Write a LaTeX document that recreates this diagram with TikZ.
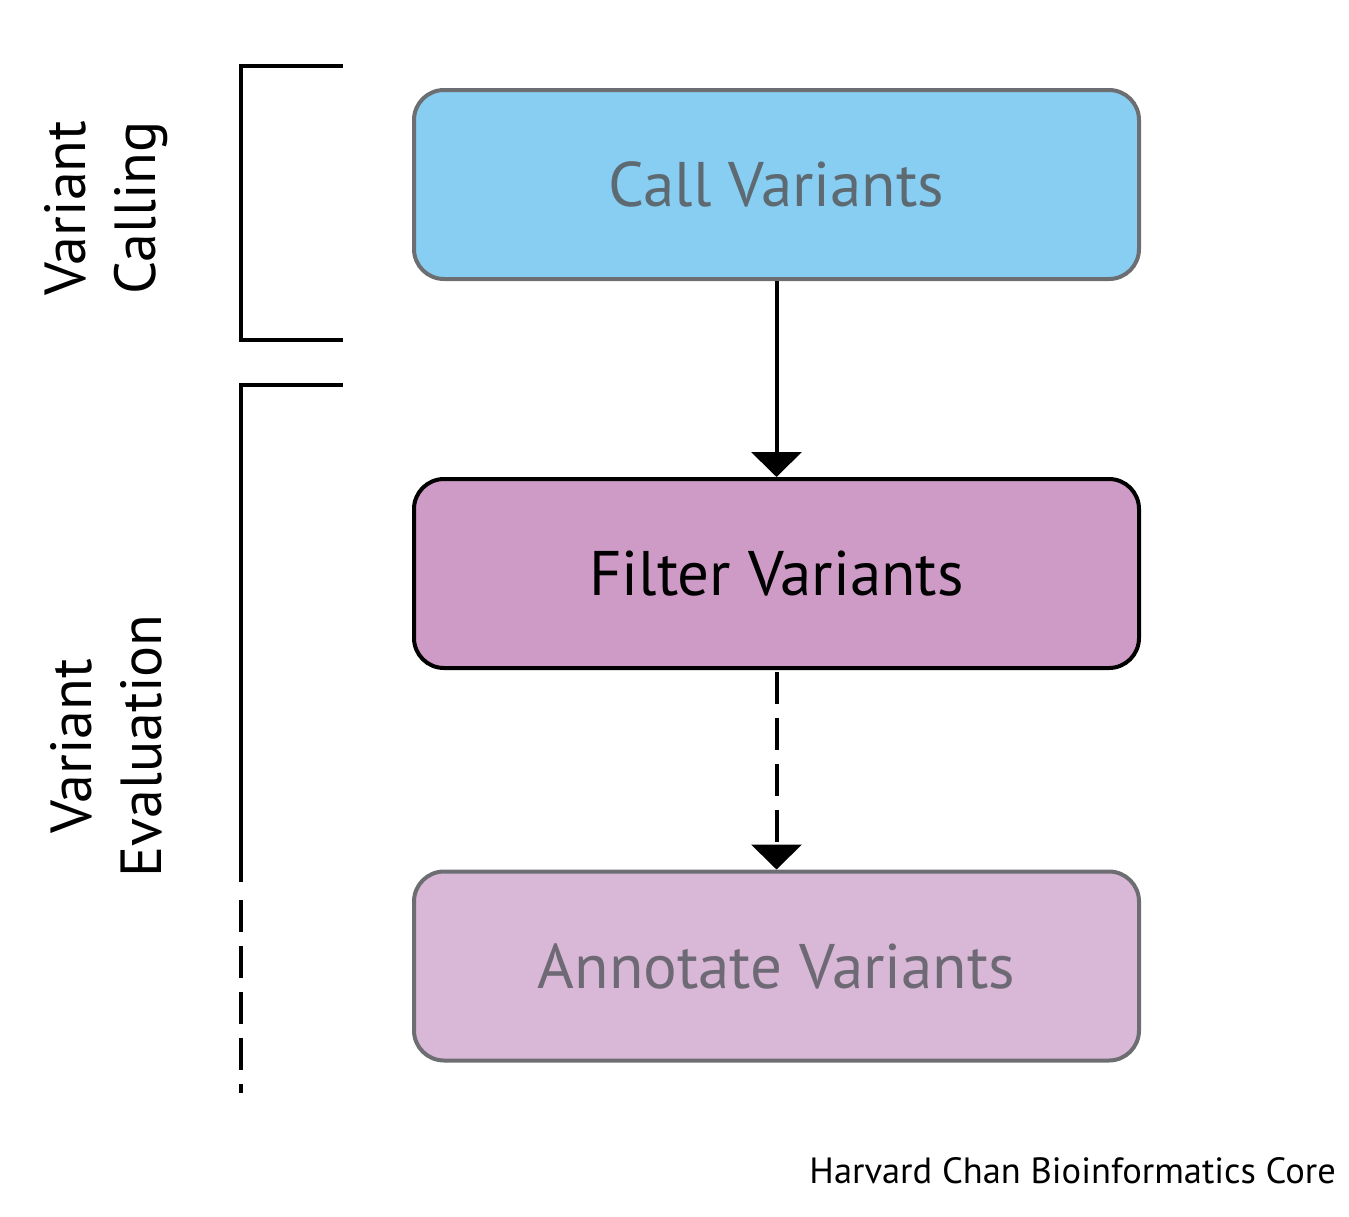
\documentclass[tikz,border=0pt]{standalone}
\usepackage{fontspec}
\setmainfont{PT Sans}
\usetikzlibrary{arrows.meta}
\definecolor{boxblue}{RGB}{135,206,242}
\definecolor{boxpurple}{RGB}{206,155,199}
\definecolor{boxlight}{RGB}{217,183,214}
\definecolor{bordergray}{RGB}{109,110,113}
\definecolor{textgray}{RGB}{94,106,113}
\definecolor{textgrayb}{RGB}{109,106,117}
\tikzset{
  stepbox/.style={rectangle, rounded corners=30pt, line width=4pt,
    minimum width=725pt, minimum height=189pt, inner sep=0pt,
    font=\fontsize{63}{70}\selectfont},
  flowarrow/.style={line width=4pt, -{Triangle[width=50pt,length=25pt]}},
  bracketline/.style={line width=3.2pt},
  sidelabel/.style={rotate=90, align=center, font=\fontsize{58}{70}\selectfont},
  dashpat/.style={dash pattern=on 32pt off 14pt}
}
\begin{document}
\begin{tikzpicture}[x=1pt,y=-1pt]
\useasboundingbox (0,0) rectangle (1349,1216);
\node[stepbox, fill=boxblue, draw=bordergray, text=textgray] (call) at (776.5,184.5) {Call Variants};
\node[stepbox, fill=boxpurple, draw=black, text=black] (filter) at (776.5,573.5) {Filter Variants};
\node[stepbox, fill=boxlight, draw=bordergray, text=textgrayb] (annot) at (776.5,966) {Annotate Variants};
\draw[flowarrow] (call.south) -- (filter.north);
\draw[flowarrow, dashpat] ([yshift=-2pt]filter.south) -- (annot.north);
% brackets
\coordinate (b1a) at (343,66);
\coordinate (b1b) at (241,66);
\coordinate (b1c) at (241,340);
\coordinate (b1d) at (343,340);
\draw[bracketline] (b1a) -- (b1b) -- (b1c) -- (b1d);
\coordinate (b2a) at (343,385);
\coordinate (b2b) at (241,385);
\coordinate (b2c) at (241,882);
\coordinate (b2d) at (241,900);
\coordinate (b2e) at (241,1093);
\draw[bracketline] (b2a) -- (b2b) -- (b2c);
\draw[bracketline, dashpat] (b2d) -- (b2e);
\node[sidelabel] (lab1) at (106,208) {Variant\\Calling};
\node[sidelabel] (lab2) at (106,746) {Variant\\Evaluation};
\node[anchor=base east, inner sep=0pt, font=\fontsize{36.5}{40}\selectfont] (credit) at (1336,1183) {Harvard Chan Bioinformatics Core};
\end{tikzpicture}
\end{document}
